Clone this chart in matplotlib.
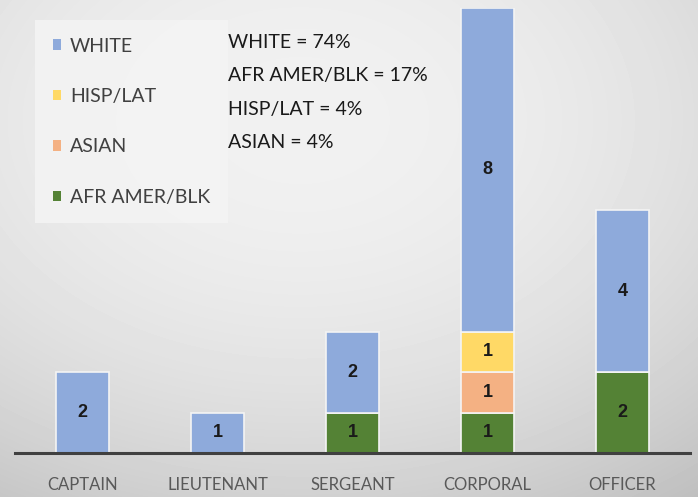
import numpy as np
import matplotlib
matplotlib.use("Agg")
import matplotlib.pyplot as plt
from matplotlib.patches import Patch

plt.rcParams['font.family'] = ['Lato', 'DejaVu Sans']

# data
ranks = ['CAPTAIN', 'LIEUTENANT', 'SERGEANT', 'CORPORAL', 'OFFICER']
afr_amer = [0, 0, 1, 1, 2]
asian = [0, 0, 0, 1, 0]
hisp_lat = [0, 0, 0, 1, 0]
white = [2, 1, 2, 8, 4]
notes = ['WHITE = 74%', 'AFR AMER/BLK = 17%', 'HISP/LAT = 4%', 'ASIAN = 4%']

series = [
    ('AFR AMER/BLK', afr_amer, '#548235'),
    ('ASIAN', asian, '#f4b183'),
    ('HISP/LAT', hisp_lat, '#ffd966'),
    ('WHITE', white, '#8eaadb'),
]

W, H = 698, 497
fig = plt.figure(figsize=(W / 100, H / 100), dpi=100)

# background vignette
bg = fig.add_axes([0, 0, 1, 1], zorder=-10)
yy, xx = np.mgrid[0:H, 0:W]
d = np.sqrt(((xx - 300) / W) ** 2 + ((yy - 120) / H) ** 2)
shade = 0.945 - 0.22 * d ** 2
bg.imshow(shade, cmap='gray', vmin=0, vmax=1, aspect='auto', extent=[0, 1, 0, 1])
bg.axis('off')

ax = fig.add_axes([15 / W, 44 / H, 675 / W, 445 / H])
ax.patch.set_alpha(0)

x = np.arange(len(ranks))
bottom = np.zeros(len(ranks))
for name, vals, col in series:
    vals = np.array(vals, dtype=float)
    bars = ax.bar(x, vals, 0.39, bottom=bottom, color=col, edgecolor='#f4f4f4',
                  linewidth=1.2, zorder=2)
    labels = [str(int(v)) if v > 0 else '' for v in vals]
    ax.bar_label(bars, labels=labels, label_type='center', fontsize=13,
                 fontweight='bold', family='Liberation Sans', color='#1a1a1a')
    bottom += vals

ax.set_xlim(-0.5, len(ranks) - 0.5)
ax.set_ylim(0, 11)
ax.set_yticks([])
ax.set_xticks(x)
ax.set_xticklabels(ranks, fontsize=12, color='#595959')
ax.tick_params(axis='x', length=0, pad=17)
for s in ['top', 'right', 'left']:
    ax.spines[s].set_visible(False)
ax.spines['bottom'].set_color('#404040')
ax.spines['bottom'].set_linewidth(2.2)

handles = [Patch(facecolor=col, label=name) for name, vals, col in reversed(series)]
leg = ax.legend(handles=handles, loc='upper left', bbox_to_anchor=(35 / W, 1 - 20 / H),
                bbox_transform=fig.transFigure, borderaxespad=0, fontsize=14,
                handlelength=0.45, handleheight=0.45, handletextpad=0.45,
                labelspacing=1.72, borderpad=0.9, frameon=True, fancybox=False)
leg.get_frame().set_facecolor('#f4f4f4')
leg.get_frame().set_edgecolor('none')
leg.get_frame().set_alpha(0.85)
for t in leg.get_texts():
    t.set_color('#404040')

for i, line in enumerate(notes):
    fig.text(228 / W, 1 - (43 + 33 * i) / H, line, fontsize=14, color='#1a1a1a',
             va='center', ha='left')

fig.savefig('out.png', dpi=100)
